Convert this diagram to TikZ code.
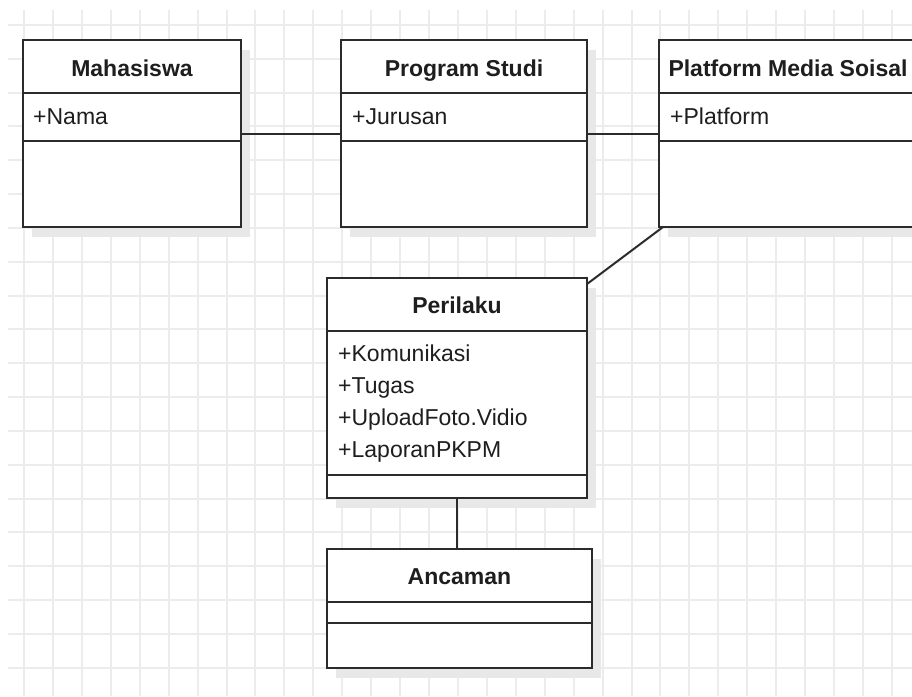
\documentclass[tikz,border=0pt]{standalone}
\usepackage{fontspec}
\setmainfont{Liberation Sans}
\usetikzlibrary{shadows}
\definecolor{gridc}{HTML}{ECECEC}
\definecolor{linec}{HTML}{2B2B2B}
\definecolor{textc}{HTML}{1E1E1E}
\definecolor{shadc}{HTML}{E8E8E8}
\begin{document}
\begin{tikzpicture}[x=1pt,y=-1pt,
  cls/.style={draw=linec, line width=2pt, fill=white, inner sep=0pt, outer sep=0pt, anchor=north west,
    drop shadow={shadow xshift=9pt, shadow yshift=-10pt, fill=shadc, opacity=1}},
  sepl/.style={draw=linec, line width=2pt},
  conn/.style={draw=linec, line width=2pt},
  gridl/.style={draw=gridc, line width=1.5pt},
  ttl/.style={font=\fontsize{23}{28}\selectfont\bfseries, text=textc, anchor=base, inner sep=0pt},
  attr/.style={font=\fontsize{23}{28}\selectfont, text=textc, anchor=base west, inner sep=0pt}]
\useasboundingbox (0,0) rectangle (912,696);
\clip (0,0) rectangle (912,696);
\fill[white] (0,0) rectangle (912,696);
% grid
\begin{scope}
\clip (8,10) rectangle (912,696);
\foreach \i in {0,...,30} \draw[gridl] ({round(24+28.93*\i)},10) -- ({round(24+28.93*\i)},696);
\foreach \j in {0,...,19} \draw[gridl] (8,{round(25+33.83*\j)}) -- (912,{round(25+33.83*\j)});
\end{scope}
% classes
\node[cls, minimum width=218pt, minimum height=187pt] (maha) at (23,40) {};
\node[cls, minimum width=246pt, minimum height=187pt] (prog) at (341,40) {};
\node[cls, minimum width=258pt, minimum height=187pt] (plat) at (659,40) {};
\node[cls, minimum width=260pt, minimum height=220pt] (peri) at (327,278) {};
\node[cls, minimum width=265pt, minimum height=119pt] (anc) at (327,549) {};
% compartments
\foreach \n/\a/\b in {maha/53/101, prog/53/101, plat/53/101, peri/53/197, anc/53/74}{
  \draw[sepl] ([yshift=-\a pt]\n.north west) -- ([yshift=-\a pt]\n.north east);
  \draw[sepl] ([yshift=-\b pt]\n.north west) -- ([yshift=-\b pt]\n.north east);
}
% titles
\node[ttl] (mahaT) at (132,76) {Mahasiswa};
\node[ttl] (progT) at (464,76) {Program Studi};
\node[ttl] (platT) at (788,76) {Platform Media Soisal};
\node[ttl] (periT) at (457,313) {Perilaku};
\node[ttl] (ancT) at (459.5,584) {Ancaman};
% attributes
\node[attr] (mahaA) at (33,124) {+Nama};
\node[attr] (progA) at (352,124) {+Jurusan};
\node[attr] (platA) at (670,124) {+Platform};
\node[attr] (periA1) at (338,361) {+Komunikasi};
\node[attr] (periA2) at (338,393) {+Tugas};
\node[attr] (periA3) at (338,425) {+UploadFoto.Vidio};
\node[attr] (periA4) at (338,457.5) {+LaporanPKPM};
% connectors
\draw[conn] (maha.east) -- (prog.west);
\draw[conn] (prog.east) -- (plat.west);
\draw[conn] ([xshift=4pt]plat.south west) -- ([yshift=-6pt]peri.north east);
\draw[conn] (peri.south) -- (peri.south |- anc.north);
\end{tikzpicture}
\end{document}
